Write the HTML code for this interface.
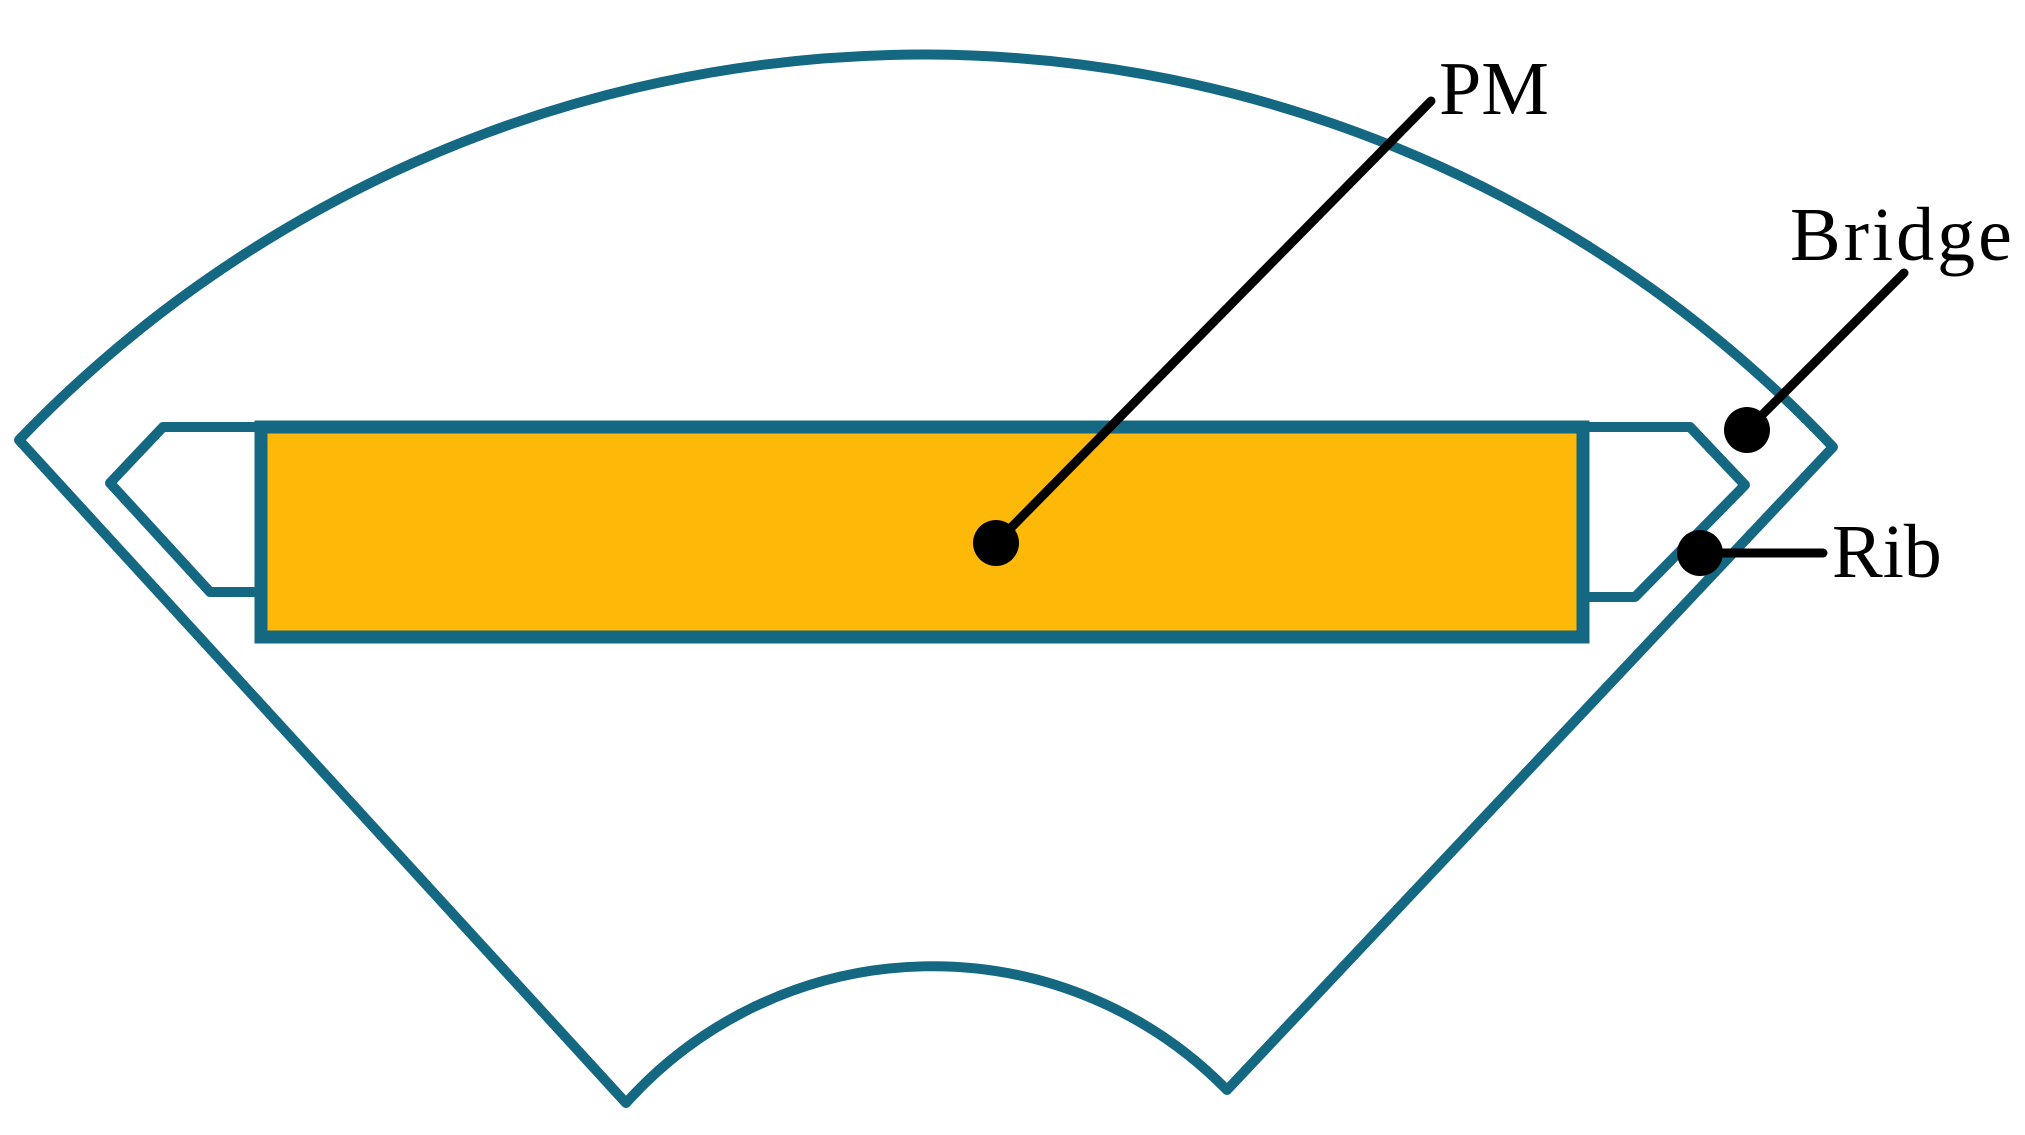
<!DOCTYPE html>
<html><head><style>html,body{margin:0;padding:0;background:#fff}svg{display:block}</style></head>
<body>
<svg width="2025" height="1135" viewBox="0 0 2025 1135" xmlns="http://www.w3.org/2000/svg">
<g fill="none" stroke="#156882" stroke-width="10" stroke-linejoin="round">
<path d="M1833,447 A1252,1252 0 0 0 19,440 L626,1103 A412,412 0 0 1 1227,1090 Z"/>
<path d="M261,427 L163,427 L110,483 L210,592 L261,592"/>
<path d="M1583,427 L1690,427 L1745,485 L1635,597 L1583,597"/>
</g>
<rect x="261" y="427" width="1322" height="210" fill="#fdb808" stroke="#156882" stroke-width="13"/>
<g stroke="#000" stroke-width="9" stroke-linecap="round">
<line x1="996" y1="543" x2="1431" y2="101"/>
<line x1="1747" y1="430" x2="1904" y2="273"/>
<line x1="1700" y1="553" x2="1823" y2="553"/>
</g>
<g fill="#000">
<circle cx="996" cy="543" r="23"/>
<circle cx="1747" cy="430" r="23"/>
<circle cx="1700" cy="553" r="23"/>
</g>
<g font-family="'Liberation Serif',serif" font-size="76" fill="#000">
<text x="1439" y="114">PM</text>
<text x="1790" y="260" letter-spacing="3">Bridge</text>
<text x="1832" y="577">Rib</text>
</g>
</svg>
</body></html>
